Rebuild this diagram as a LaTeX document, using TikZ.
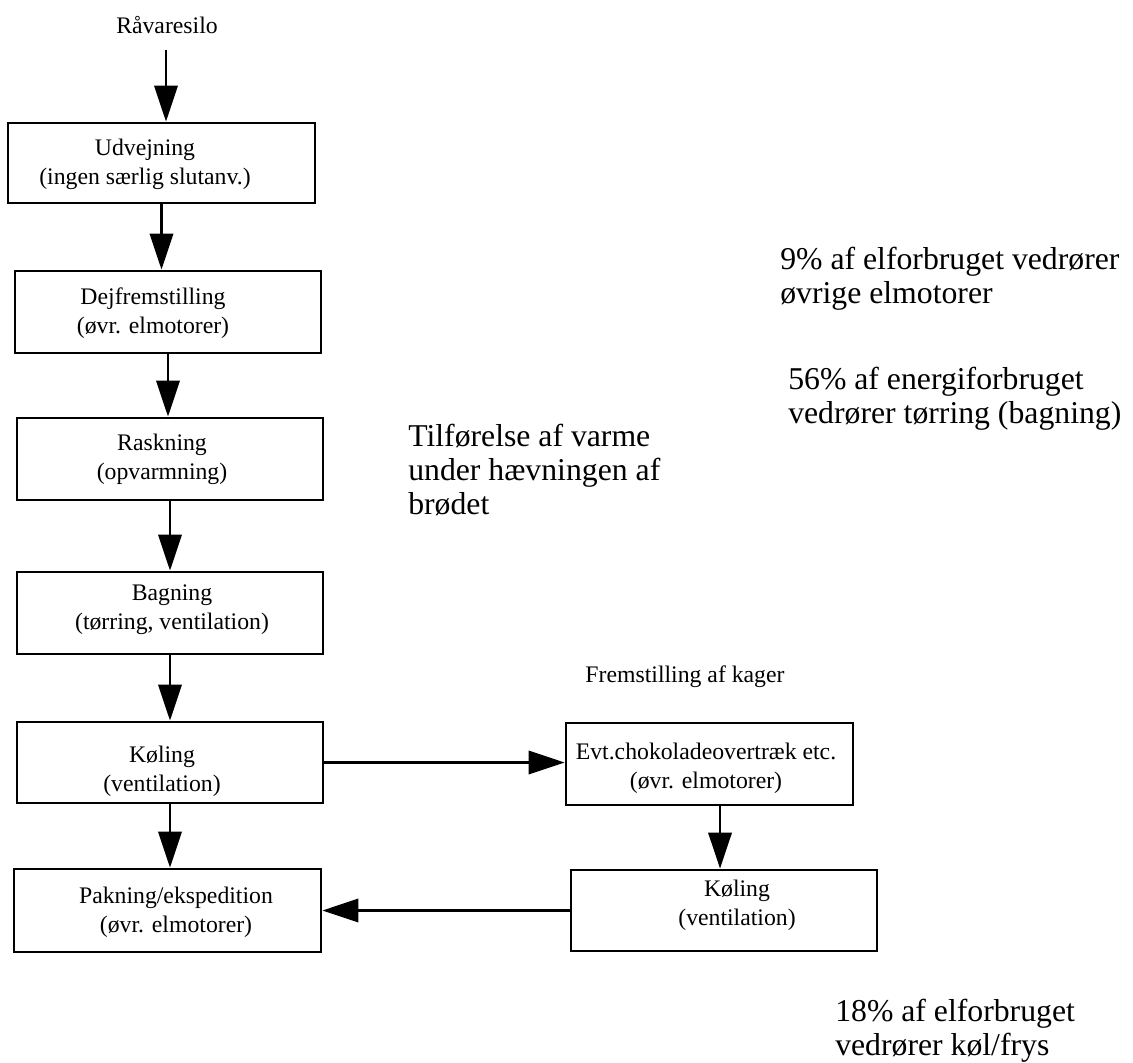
\documentclass[tikz,border=0pt]{standalone}
\usepackage{fontspec}
\setmainfont{Liberation Serif}
\usetikzlibrary{arrows.meta}

\begin{document}
\begin{tikzpicture}[
  x=0.75pt, y=-0.75pt,
  box/.style={draw, line width=2.1pt, inner sep=0pt},
  flow/.style={-{Triangle[length=27pt,width=17.5pt]}, line width=1.9pt},
  small/.style={font=\fontsize{17.8}{21.75}\selectfont, align=center, inner sep=0pt},
  big/.style={font=\fontsize{23.8}{25.5}\selectfont, align=left, anchor=west, inner sep=0pt},
]
\useasboundingbox (0,0) rectangle (1133,1063);

% process boxes
\node[box, minimum width=230.25pt, minimum height=60pt]   (udv)  at (161.5,163) {};
\node[box, minimum width=229.5pt,  minimum height=61.5pt] (dej)  at (168,312) {};
\node[box, minimum width=229.5pt,  minimum height=61.5pt] (ras)  at (170,459) {};
\node[box, minimum width=229.5pt,  minimum height=61.5pt] (bag)  at (170,613) {};
\node[box, minimum width=229.5pt,  minimum height=60.75pt] (kol) at (170,762.5) {};
\node[box, minimum width=230.25pt, minimum height=62.25pt] (pak) at (167.5,910.5) {};
\node[box, minimum width=215.25pt, minimum height=61.5pt] (evt)  at (709.5,764) {};
\node[box, minimum width=229.5pt,  minimum height=60.75pt] (kol2) at (724,910.5) {};

% box texts
\node[small] (udvtxt)  at (145,164) {Udvejning\\(ingen særlig slutanv.)};
\node[small] (dejtxt)  at (153,313) {Dejfremstilling\\(øvr. elmotorer)};
\node[small] (rastxt)  at (162,459) {Raskning\\(opvarmning)};
\node[small] (bagtxt)  at (172,610) {Bagning\\(tørring, ventilation)};
\node[small] (koltxt)  at (162,771) {Køling\\(ventilation)};
\node[small] (paktxt)  at (176,912) {Pakning/ekspedition\\(øvr. elmotorer)};
\node[small] (evttxt)  at (706,768) {Evt.chokoladeovertræk etc.\\(øvr. elmotorer)};
\node[small] (kol2txt) at (737,905) {Køling\\(ventilation)};

% free labels
\node[small] (raw)    at (167,25)  {Råvaresilo};
\node[small] (kager)  at (685,677) {Fremstilling af kager};
\node[big]   (varme)  at (408,470) {Tilførelse af varme\\under hævningen af\\brødet};
\node[big]   (elmot)  at (780,278.5) {9\% af elforbruget vedrører\\øvrige elmotorer};
\node[big]   (tor)    at (788,399) {56\% af energiforbruget\\vedrører tørring (bagning)};
\node[big]   (kfrys)  at (835,1031) {18\% af elforbruget\\vedrører køl/frys};

% connectors
\coordinate (rawend) at (166,50);
\draw[flow] (rawend) -- (rawend |- udv.north);
\draw[flow] (udv.south) -- (udv.south |- dej.north);
\draw[flow] (dej.south) -- (dej.south |- ras.north);
\draw[flow] (ras.south) -- (ras.south |- bag.north);
\draw[flow] (bag.south) -- (bag.south |- kol.north);
\draw[flow] (kol.south) -- (kol.south |- pak.north);
\draw[flow] (kol.east) -- (kol.east -| evt.west);
\draw[flow] ([xshift=7.9pt]evt.south) -- ([xshift=7.9pt]evt.south |- kol2.north);
\draw[flow] (kol2.west) -- (kol2.west -| pak.east);
\end{tikzpicture}
\end{document}
